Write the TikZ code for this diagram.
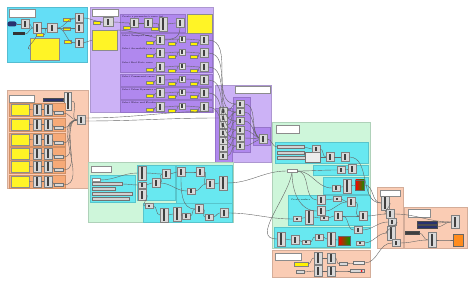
\documentclass[tikz,border=0pt]{standalone}
\usepackage{tikz}
\usetikzlibrary{arrows.meta, positioning}

\definecolor{ghcyan}{RGB}{100,222,246}
\definecolor{ghlav}{RGB}{204,178,246}
\definecolor{ghpur}{RGB}{176,136,238}
\definecolor{ghsalm}{RGB}{250,204,180}
\definecolor{ghorng}{RGB}{246,170,120}
\definecolor{ghmint}{RGB}{206,246,218}
\definecolor{ghaqua}{RGB}{104,232,240}
\definecolor{ghnavy}{RGB}{40,50,110}
\definecolor{ghorange}{RGB}{255,140,30}

\begin{document}
\begin{tikzpicture}[x=1pt, y=-1pt,
  grp/.style={draw=#1!85!black, line width=0.25pt, fill=#1},
  comp/.style={rectangle, draw=black!50, line width=0.3pt, fill=gray!30,
    minimum width=8pt, minimum height=9pt, inner sep=0pt,
    path picture={\fill[black!75] ([xshift=-1.3pt,yshift=1.2pt]path picture bounding box.south)
      rectangle ([xshift=1.3pt,yshift=-1.2pt]path picture bounding box.north);}},
  tallcomp/.style={comp, minimum height=14pt},
  smallcomp/.style={comp, minimum width=6pt, minimum height=6pt, fill=gray!20},
  yel/.style={rectangle, draw=black!50, line width=0.2pt, fill=yellow, minimum width=7pt, minimum height=3pt, inner sep=0pt},
  note/.style={rectangle, draw=black!45, line width=0.3pt, fill=yellow!85!white, inner sep=0pt},
  ttl/.style={rectangle, draw=black!45, line width=0.3pt, fill=white, inner sep=0pt},
  bar/.style={rectangle, draw=black!55, line width=0.2pt, fill=gray!35, minimum height=3pt, inner sep=0pt, anchor=west},
  darkbar/.style={rectangle, draw=black!70, line width=0.2pt, fill=ghnavy, minimum height=3pt, inner sep=0pt},
  swatch/.style={rectangle, draw=black!60, line width=0.3pt, left color=red, middle color=yellow, right color=green!60!black, minimum width=9pt, minimum height=10pt, inner sep=0pt},
  wire/.style={draw=black!60, line width=0.4pt},
  lbl/.style={font=\fontsize{2.2}{2.6}\selectfont, inner sep=0pt, anchor=west}
]
\useasboundingbox[fill=white] (0,0) rectangle (472,283);

% Groups
\path[grp=ghcyan] (7,7) rectangle (87,62);
\path[grp=ghlav] (90,7) rectangle (213,112);
\path[grp=ghpur] (120,14) rectangle (185,32);
\path[grp=ghpur] (120,33) rectangle (212,72);
\path[grp=ghpur] (120,74) rectangle (212,86);
\path[grp=ghpur] (120,87) rectangle (212,99);
\path[grp=ghpur] (120,100) rectangle (212,112);
\path[grp=ghsalm] (7,90) rectangle (88,188);
\path[grp=ghlav] (215,85) rectangle (271,162);
\path[grp=ghpur] (215,108) rectangle (232,162);
\path[grp=ghpur] (233,97) rectangle (250,152);
\path[grp=ghpur] (253,127) rectangle (270,145);
\path[grp=ghmint] (88,162) rectangle (233,222);
\path[grp=ghaqua] (90,175) rectangle (135,202);
\path[grp=ghaqua] (137,165) rectangle (175,200);
\path[grp=ghaqua] (176,165) rectangle (232,203);
\path[grp=ghaqua] (143,203) rectangle (232,222);
\path[grp=ghmint] (272,122) rectangle (370,248);
\path[grp=ghaqua] (275,142) rectangle (368,163);
\path[grp=ghaqua] (313,165) rectangle (368,175);
\path[grp=ghaqua] (323,177) rectangle (368,194);
\path[grp=ghaqua] (288,195) rectangle (370,225);
\path[grp=ghaqua] (274,227) rectangle (370,247);
\path[grp=ghsalm] (272,250) rectangle (370,277);
\path[grp=ghsalm] (377,187) rectangle (403,248);
\path[grp=ghsalm] (404,207) rectangle (467,248);

% Data input
\node[ttl, minimum width=26pt, minimum height=8pt] (ttlA) at (22,13) {};
\node[rectangle, rounded corners=2pt, fill=ghnavy, minimum width=9pt, minimum height=5pt, inner sep=0pt] (inA) at (12,24) {};
\node[comp] (cA1) at (25,24) {};
\node[comp, minimum height=11pt] (cA2) at (37,28) {};
\node[comp, minimum width=10pt] (cA3) at (52,28) {};
\node[rectangle, fill=black!80, minimum width=12pt, minimum height=3pt, inner sep=0pt] (slA) at (19,34) {};
\node[yel] (yA1) at (40,35) {};
\node[comp] (cA4) at (79,18) {};
\node[comp] (cA5) at (79,28) {};
\node[comp] (cA6) at (79,43) {};
\node[yel] (yA2) at (67,20) {};
\node[yel] (yA3) at (67,29) {};
\node[yel] (yA4) at (68,42) {};
\node[note, anchor=north west, minimum width=29pt, minimum height=22pt] (noteA) at (30,38) {};
\draw[wire] (inA) -- (cA1);
\draw[wire] (cA1.east) to[out=0,in=180] (cA2.west);
\draw[wire] (slA.east) to[out=0,in=180] (cA2.west);
\draw[wire] (cA2.east) to[out=0,in=180] (cA3.west);
\draw[wire] (yA1.east) to[out=0,in=180] (cA3.west);
\draw[wire] (cA3.east) to[out=0,in=180] (cA4.west);
\draw[wire] (cA3.east) to[out=0,in=180] (cA5.west);
\draw[wire] (cA3.east) to[out=0,in=180] (cA6.west);
\draw[wire] (yA2) -- (cA4);
\draw[wire] (yA3) -- (cA5);
\draw[wire] (yA4) -- (cA6);
\draw[wire] (cA2.south) to[out=-90,in=180] (noteA.west);

% Curve parameters
\node[ttl, minimum width=26pt, minimum height=7pt] (ttlB) at (105,12.5) {};
\node[comp, minimum width=10pt] (cB1) at (108,22) {};
\node[yel] (yB1) at (97,23) {};
\node[note, anchor=north west, minimum width=25pt, minimum height=20pt] (noteB1) at (92,30) {};
\node[lbl] (lbB0) at (122,17) {Create a parameter's curve list};
\node[comp] (cB2) at (134,23) {};
\node[comp] (cB3) at (148,23) {};
\node[tallcomp] (cB4) at (163,24) {};
\node[comp] (cB5) at (180,23) {};
\node[yel] (yB2) at (127,28) {};
\node[yel] (yB3) at (155,29) {};
\node[note, anchor=north west, minimum width=25pt, minimum height=19pt] (noteB2) at (187,14) {};
\draw[wire] (cA4.east) to[out=0,in=180] (cB1.west);
\draw[wire] (cA6.east) to[out=0,in=180] (noteB1.west);
\draw[wire] (yB1) -- (cB1);
\draw[wire] (cB1.east) to[out=0,in=180] (cB2.west);
\draw[wire] (yB2.east) to[out=0,in=180] (cB2.west);
\draw[wire] (cB2) -- (cB3);
\draw[wire] (cB3.east) to[out=0,in=180] (cB4.west);
\draw[wire] (yB3.east) to[out=0,in=180] (cB4.west);
\draw[wire] (cB4.east) to[out=0,in=180] (cB5.west);
\draw[wire] (cB5.south) to[out=-90,in=0] (noteB1.north east);

\node[lbl] (lbB1) at (122,36) {Select Transport curve};
\node[lbl] (lbB2) at (122,49) {Select Accessibility curve};
\node[lbl] (lbB3) at (122,63) {Select Real State curve};
\node[lbl] (lbB4) at (122,77) {Select Commercial curve};
\node[lbl] (lbB5) at (122,90) {Select Urban Dynamics curve};
\node[lbl] (lbB6) at (122,103) {Select Water and Flooding curve};

% Sample group
\node[ttl, minimum width=35pt, minimum height=7pt] (ttlD) at (252.5,89.5) {};
\foreach \y [count=\i] in {111,118,125,133,141,148,156}{
  \node[comp, minimum height=7pt] (dl\i) at (223,\y) {};
}
\foreach \y [count=\i] in {104,112,121,130,138,146}{
  \node[comp, minimum height=7pt] (dm\i) at (240,\y) {};
  \draw[wire] (dm\i.east) to[out=0,in=180] (263,139);
}
\node[comp] (lst) at (263,139) {};
\foreach \i/\j in {1/1,2/2,3/2,4/3,5/4,6/5,7/6}{
  \draw[wire] (dl\i.east) to[out=0,in=180] (dm\j.west);
}

\foreach \y [count=\i] in {40,53,67,80,93,107}{
  \node[yel] (pa\i) at (150,\y+3) {};
  \node[comp] (pb\i) at (160,\y) {};
  \node[yel] (pc\i) at (172,\y+4) {};
  \node[smallcomp] (pd\i) at (182,\y-1) {};
  \node[yel] (pe\i) at (194,\y+4) {};
  \node[comp] (pf\i) at (204,\y) {};
  \draw[wire] (pa\i.east) -- (pb\i.west);
  \draw[wire] (pb\i.east) to[out=0,in=180] (pd\i.west);
  \draw[wire] (pc\i.east) to[out=0,in=180] (pd\i.west);
  \draw[wire] (pd\i.east) to[out=0,in=180] (pf\i.west);
  \draw[wire] (pe\i.east) to[out=0,in=180] (pf\i.west);
  \draw[wire] (pf\i.east) to[out=0,in=180] (dm\i.west);
}

% Weights group
\node[ttl, minimum width=25pt, minimum height=7pt] (ttlC) at (21.5,98.5) {};
\node[darkbar, minimum width=20pt] (dbC) at (53,100) {};
\node[comp, minimum width=7pt, minimum height=18pt, fill=gray!20] (tlC) at (68,101) {};
\node[comp] (mC) at (81,120) {};
\draw[wire] (dbC) -- (tlC);
\draw[wire] (tlC.east) to[out=0,in=180] (mC.west);
\foreach \t [count=\i] in {103,118,133,147,160,175}{
  \path[grp=ghorng] (9,\t) rectangle (65,\t+13);
  \node[note, anchor=north west, minimum width=18pt, minimum height=11pt] (nC\i) at (11,\t+1) {};
  \node[comp, minimum height=11pt] (cC\i) at (37,\t+6.5) {};
  \node[comp, minimum height=11pt] (kC\i) at (48,\t+6.5) {};
  \node[rectangle, draw=black!55, line width=0.2pt, fill=gray!30, minimum width=9pt, minimum height=3pt, inner sep=0pt] (bC\i) at (59,\t+10) {};
  \draw[wire] (nC\i) -- (cC\i);
  \draw[wire] (cC\i) -- (kC\i);
  \draw[wire] (kC\i.east) to[out=0,in=180] (bC\i.west);
  \draw[wire] (bC\i.east) to[out=0,in=180] (mC.west);
}
\draw[wire] ([yshift=2pt]mC.east) to[out=0,in=180] (dl1.west);
\draw[wire] ([yshift=-1pt]mC.east) to[out=0,in=180] (dl2.west);

% Pixel map group
\node[ttl, minimum width=20pt, minimum height=6pt] (ttlE) at (101,169) {};
\node[ttl, minimum width=8pt, minimum height=3pt] (eK) at (96,180) {};
\node[bar, minimum width=30pt] (eR1) at (92,184) {};
\node[bar, minimum width=23pt] (eR2) at (92,189) {};
\node[bar, minimum width=40pt] (eR3) at (92,194) {};
\node[bar, minimum width=37pt] (eR4) at (92,199) {};
\node[tallcomp] (eS1) at (142,173) {};
\node[comp, minimum height=6pt] (eS2) at (142,185) {};
\node[comp, minimum height=11pt] (eS3) at (142,195) {};
\node[comp] (eS4) at (156,183) {};
\node[comp] (eS5) at (166,174) {};
\node[comp] (eD1) at (181,172) {};
\node[comp] (eD2) at (200,172) {};
\node[comp] (eD3) at (210,184) {};
\node[tallcomp] (eD4) at (223,183) {};
\node[comp, minimum height=6pt] (eD5) at (191,191) {};
\node[comp, minimum height=5pt] (eB1) at (149,206) {};
\node[tallcomp] (eB2) at (164,215) {};
\node[tallcomp] (eB3) at (177,214) {};
\node[comp, minimum height=6pt] (eB4) at (186,216) {};
\node[comp] (eB5) at (199,209) {};
\node[comp, minimum height=6pt] (eB6) at (209,217) {};
\node[comp] (eB7) at (224,213) {};
\draw[wire] (eK.east) to[out=0,in=180] (eS1.west);
\draw[wire] (eR1.east) to[out=0,in=180] (eS2.west);
\draw[wire] (eS1.east) to[out=0,in=180] (eS5.west);
\draw[wire] (eS2.east) to[out=0,in=180] (eS4.west);
\draw[wire] (eS4.east) to[out=0,in=180] (eS5.west);
\draw[wire] (eS5.east) to[out=0,in=180] (eD1.west);
\draw[wire] (eD1.east) to[out=0,in=180] (eD2.west);
\draw[wire] (eD2.east) to[out=0,in=180] (eD3.west);
\draw[wire] (eD5.east) to[out=0,in=180] (eD3.west);
\draw[wire] (eD3.east) to[out=0,in=180] (eD4.west);
\draw[wire] (eS4.east) to[out=0,in=180] (eD5.west);
\draw[wire] (eS3.east) to[out=0,in=180] (eB1.west);
\draw[wire] (eB1.east) to[out=0,in=180] (eB2.west);
\draw[wire] (eB2.east) to[out=0,in=180] (eB3.west);
\draw[wire] (eB3.east) to[out=0,in=180] (eB4.west);
\draw[wire] (eB4.east) to[out=0,in=180] (eB5.west);
\draw[wire] (eB5.east) to[out=0,in=180] (eB6.west);
\draw[wire] (eB6.east) to[out=0,in=180] (eB7.west);
\draw[wire] (eD1.south) to[out=-90,in=180] (eB5.west);

% Mapping group
\node[ttl, minimum width=23pt, minimum height=8pt] (ttlF) at (287.5,129) {};
\node[bar, minimum width=27pt] (fB1) at (277,147) {};
\node[bar, minimum width=27pt] (fB2) at (277,153) {};
\node[bar, minimum width=28pt] (fB3) at (277,158) {};
\node[rectangle, draw=black!55, line width=0.3pt, fill=gray!15, minimum width=15pt, minimum height=10pt, inner sep=0pt] (fW) at (313,157) {};
\node[comp, minimum height=7pt] (fC1) at (316,149) {};
\node[comp] (fC2) at (330,157) {};
\node[comp] (fC3) at (345,157) {};
\node[ttl, minimum width=10pt, minimum height=3pt] (fX) at (292,171) {};
\node[comp, minimum height=7pt] (fS) at (341,170) {};
\node[comp] (fC4) at (352,169) {};
\node[comp, minimum height=6pt] (fC6) at (336,188) {};
\node[tallcomp] (fC5) at (347,186) {};
\node[swatch] (swF) at (360,185) {};
\node[lbl] (lbF4) at (291,200) {Create surface};
\node[comp] (fF1) at (321,200) {};
\node[comp] (fF2) at (321,211) {};
\node[comp, minimum height=5pt] (fF3) at (337,199) {};
\node[comp] (fF4) at (351,202) {};
\node[comp] (fF5) at (363,216) {};
\node[comp, minimum height=5pt] (fF6) at (297,219) {};
\node[tallcomp] (fF7) at (309,217) {};
\node[comp, minimum height=4pt] (fF8) at (324,218) {};
\node[comp] (fF9) at (338,216) {};
\node[tallcomp] (fG1) at (281,239) {};
\node[comp] (fG2) at (295,240) {};
\node[comp, minimum height=4pt] (fG3) at (306,242) {};
\node[comp, minimum height=6pt] (fG4) at (319,237) {};
\node[tallcomp] (fG5) at (331,239) {};
\node[swatch, minimum width=12pt, minimum height=9pt] (swG) at (344,241) {};
\node[comp, minimum height=4pt] (fG6) at (360,243) {};
\node[comp, minimum height=7pt] (fG7) at (358,230) {};
\draw[wire] (lst.east) to[out=0,in=180] (fB1.west);
\draw[wire] (fB1.east) to[out=0,in=180] (fC1.west);
\draw[wire] (fB2.east) to[out=0,in=180] (fW.west);
\draw[wire] (fB3.east) to[out=0,in=180] (fW.west);
\draw[wire] (fW.east) to[out=0,in=180] (fC2.west);
\draw[wire] (fC1.east) to[out=0,in=180] (fC2.west);
\draw[wire] (fC2.east) to[out=0,in=180] (fC3.west);
\draw[wire] (fS) -- (fC4);
\draw[wire] (fC6) -- (fC5);
\draw[wire] (fC5) -- (swF);
\draw[wire] (eD4.east) to[out=0,in=180] (fX.west);
\draw[wire] (eB7.east) to[out=0,in=180] (fF6.west);
\draw[wire] (fX.east) to[out=0,in=180] (fS.west);
\draw[wire] (fX.east) to[out=0,in=180] (fC6.west);
\draw[wire] (fX.east) to[out=0,in=180] (fF1.west);
\draw[wire] (fX.south) to[out=-90,in=180] (fF2.west);
\draw[wire] (fX.south) to[out=-100,in=180] (fG1.west);
\draw[wire] (fF1.east) to[out=0,in=180] (fF3.west);
\draw[wire] (fF3.east) to[out=0,in=180] (fF4.west);
\draw[wire] (fF2.east) to[out=0,in=180] (fF4.west);
\draw[wire] (fF4.east) to[out=0,in=180] (fF5.west);
\draw[wire] (fF6) -- (fF7);
\draw[wire] (fF7.east) to[out=0,in=180] (fF8.west);
\draw[wire] (fF8.east) to[out=0,in=180] (fF9.west);
\draw[wire] (fF9.east) to[out=0,in=180] (fF5.west);
\draw[wire] (fG1.east) to[out=0,in=180] (fG2.west);
\draw[wire] (fG2.east) to[out=0,in=180] (fG3.west);
\draw[wire] (fG3.east) to[out=0,in=180] (fG4.west);
\draw[wire] (fG4.east) to[out=0,in=180] (fG5.west);
\draw[wire] (fG5) -- (swG);
\draw[wire] (fF9.east) to[out=0,in=180] (fG7.west);

% Export group
\node[ttl, minimum width=26pt, minimum height=7pt] (ttlG) at (288,256.5) {};
\node[comp, minimum height=12pt] (gC1) at (318,258) {};
\node[comp, minimum height=10pt] (gC2) at (331,258) {};
\node[comp, minimum height=11pt] (gC3) at (318,271) {};
\node[comp, minimum height=10pt] (gC4) at (331,271) {};
\node[yel, minimum width=14pt, minimum height=4pt] (gY) at (301,264) {};
\node[rectangle, draw=black!55, line width=0.2pt, fill=gray!30, minimum width=8pt, minimum height=3pt, inner sep=0pt] (gS) at (300,272) {};
\node[rectangle, draw=black!55, line width=0.2pt, fill=gray!30, minimum width=8pt, minimum height=3pt, inner sep=0pt] (gO1) at (343,264) {};
\node[rectangle, draw=black!55, line width=0.2pt, fill=gray!15, minimum width=11pt, minimum height=3pt, inner sep=0pt] (gO2) at (359,263) {};
\node[rectangle, draw=black!55, line width=0.2pt, fill=gray!30, minimum width=14pt, minimum height=3pt, inner sep=0pt,
  path picture={\fill[red] ([xshift=-2.5pt]path picture bounding box.east) circle (1pt);}] (gO3) at (357,271) {};
\draw[wire] (gY.east) to[out=0,in=180] (gC1.west);
\draw[wire] (gS.east) to[out=0,in=180] (gC3.west);
\draw[wire] (gC1) -- (gC2);
\draw[wire] (gC3) -- (gC4);
\draw[wire] (gC2.east) to[out=0,in=180] (gO1.west);
\draw[wire] (gC4.east) to[out=0,in=180] (gO3.west);
\draw[wire] (gO1) -- (gO2);

% Output groups
\node[ttl, minimum width=20pt, minimum height=6pt] (ttlH) at (390,193) {};
\node[tallcomp] (hC1) at (385,203) {};
\node[comp] (hC2) at (390,214) {};
\node[comp, minimum height=7pt] (hC3) at (392,222) {};
\node[tallcomp] (hC4) at (391,233) {};
\node[comp, minimum height=7pt] (hC5) at (396,243) {};
\draw[wire] (swF.east) to[out=0,in=180] (hC1.west);
\draw[wire] (fC3.east) to[out=0,in=180] (hC1.west);
\draw[wire] (fF5.east) to[out=0,in=180] (hC2.west);
\draw[wire] (fG7.east) to[out=0,in=180] (hC3.west);
\draw[wire] (fG6.east) to[out=0,in=180] (hC4.west);
\draw[wire] (gO2.east) to[out=0,in=180] (hC5.west);
\draw[wire] (hC1.east) to[out=0,in=180] (hC2.west);
\draw[wire] (hC3.east) to[out=0,in=180] (hC4.west);

\node[ttl, minimum width=22pt, minimum height=8pt] (ttlI) at (419,213) {};
\node[darkbar, minimum width=20pt] (iB1) at (427,223) {};
\node[darkbar, minimum width=20pt] (iB2) at (427,227) {};
\node[rectangle, draw=black!70, line width=0.2pt, fill=black!75, minimum width=14pt, minimum height=3pt, inner sep=0pt] (iB3) at (412,233) {};
\node[comp, minimum height=13pt] (iC1) at (455,222) {};
\node[comp, minimum height=15pt] (iC2) at (432,240) {};
\node[rectangle, draw=black!60, line width=0.3pt, fill=ghorange, minimum width=10pt, minimum height=12pt, inner sep=0pt] (iO) at (458,240) {};
\draw[wire] (hC2.east) to[out=0,in=180] (iC1.west);
\draw[wire] (iB1.east) to[out=0,in=180] (iC1.west);
\draw[wire] (iB2.east) to[out=0,in=180] (iC1.west);
\draw[wire] (iB3.east) to[out=0,in=180] (iC2.west);
\draw[wire] (hC5.east) to[out=0,in=180] (iC2.west);
\draw[wire] (iC2.east) to[out=0,in=180] (iO.west);
\end{tikzpicture}
\end{document}
